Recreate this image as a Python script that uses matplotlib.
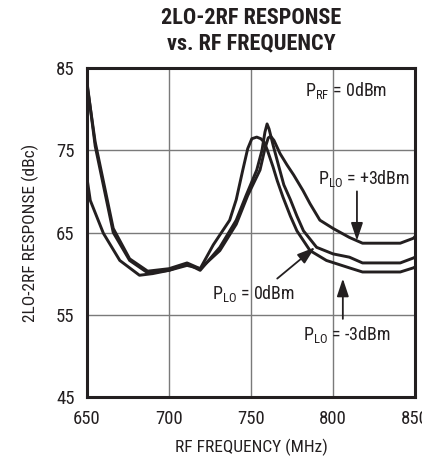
import matplotlib
matplotlib.use('Agg')
import matplotlib.pyplot as plt
from matplotlib import font_manager

# pick a narrow font if one is around
names = {f.name for f in font_manager.fontManager.ttflist}
narrow = 'DejaVu Sans'
for cand in ['Liberation Sans Narrow', 'DejaVu Sans Condensed', 'Roboto Condensed', 'Open Sans Condensed', 'Roboto']:
    if cand in names:
        narrow = cand
        break
plt.rcParams['font.family'] = [narrow, 'DejaVu Sans']
plt.rcParams['mathtext.fontset'] = 'custom'
plt.rcParams['mathtext.rm'] = narrow

# curves (MHz, dBc)
freq_m3 = [650, 652, 660, 670, 682, 690, 700, 711, 719, 727, 737, 741, 745, 748, 750.5, 753.5, 756,
           758, 760, 763.4, 766, 769.5, 774, 778, 786, 796, 810, 818, 841, 849, 850]
resp_m3 = [71.6, 68.9, 64.9, 61.6, 59.8, 60.0, 60.4, 61.0, 60.6, 63.5, 66.5, 69.0, 72.6, 75.2, 76.4, 76.6, 76.4,
           76.0, 75.0, 73.0, 71.3, 69.3, 67.0, 65.2, 62.8, 61.6, 60.7, 60.2, 60.2, 60.7, 60.8]

freq_0 = [650, 655, 666, 676, 687, 700, 711, 719, 731, 741, 747, 753.5, 756.7, 758.5, 759.8,
          761, 763.5, 767, 770, 774, 778, 782, 790, 800, 810, 818, 841, 849, 850]
resp_0 = [83.3, 75.5, 65.0, 61.6, 60.1, 60.4, 61.2, 60.4, 63.2, 66.5, 69.5, 72.6, 75.0, 77.2, 78.2,
          77.6, 75.6, 73.0, 70.8, 69.0, 67.0, 65.2, 63.2, 62.4, 62.0, 61.3, 61.3, 61.9, 62.0]

freq_p3 = [650, 655, 666, 676, 687, 700, 711, 719, 731, 741, 748, 755.5, 758.5, 760.5, 762,
           764, 767.7, 772, 776, 781.7, 786, 792, 800, 810, 818, 841, 849, 850]
resp_p3 = [83.0, 76.0, 65.5, 61.8, 60.3, 60.6, 61.3, 60.6, 62.8, 66.0, 69.5, 72.6, 75.2, 76.5, 76.7,
           76.2, 74.6, 73.2, 72.0, 70.1, 68.5, 66.5, 65.5, 64.4, 63.7, 63.7, 64.3, 64.5]

fig = plt.figure(figsize=(4.22, 4.57), dpi=100)
ax = fig.add_axes([87/422, 1-397/457, 328/422, 329/457])

for f, r in [(freq_m3, resp_m3), (freq_0, resp_0), (freq_p3, resp_p3)]:
    ax.plot(f, r, color='#231f20', lw=2.1, solid_joinstyle='round', zorder=3)

ax.set_xlim(650, 850)
ax.set_ylim(45, 85)
ax.set_xticks([650, 700, 750, 800, 850])
ax.set_yticks([45, 55, 65, 75, 85])
ax.grid(True, color='#7a7a7a', lw=1.0)
ax.tick_params(length=0, labelsize=13.5, pad=9, colors='#231f20')
for s in ax.spines.values():
    s.set_linewidth(2.2)
    s.set_color('#231f20')

ax.set_xlabel('RF FREQUENCY (MHz)', fontsize=12.5, labelpad=8, color='#231f20')
ax.set_ylabel('2LO-2RF RESPONSE (dBc)', fontsize=12.5, labelpad=12, color='#231f20')
fig.text(251/422, 1-31/457, '2LO-2RF RESPONSE\nvs. RF FREQUENCY', ha='center', va='center',
         fontsize=16, fontweight='bold', linespacing=1.2, color='#231f20')

txt = dict(fontsize=13, color='#231f20', zorder=5)
ax.text(783, 82.3, r'P$_{\mathrm{RF}}$ = 0dBm', va='center', **txt)
ax.text(791, 71.6, r'P$_{\mathrm{LO}}$ = +3dBm', va='center', **txt)
ax.text(726, 57.6, r'P$_{\mathrm{LO}}$ = 0dBm', va='center', **txt)
ax.text(782, 52.6, r'P$_{\mathrm{LO}}$ = -3dBm', va='center', **txt)

arrow = dict(arrowstyle='-|>,head_length=0.9,head_width=0.3', color='#231f20', lw=1.3,
             mutation_scale=12, shrinkA=0, shrinkB=0)
ax.annotate('', xy=(814.6, 64.0), xytext=(814.6, 70.0), arrowprops=arrow)
ax.annotate('', xy=(789, 63.2), xytext=(766, 59.4), arrowprops=arrow)
ax.annotate('', xy=(806, 59.4), xytext=(806, 54.5), arrowprops=arrow)

fig.savefig('out.png', dpi=100)
